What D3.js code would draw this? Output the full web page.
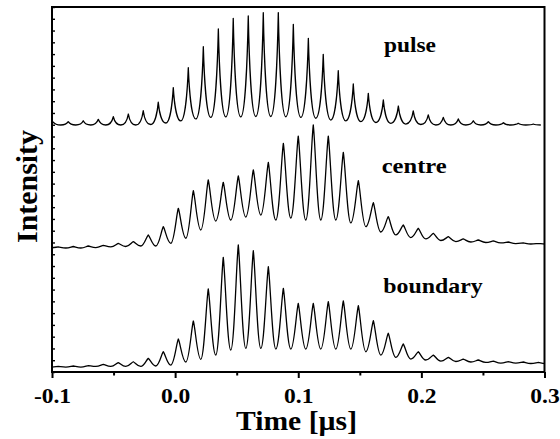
<!DOCTYPE html>
<html>
<head>
<meta charset="utf-8">
<script src="https://cdn.jsdelivr.net/npm/d3@7"></script>
<style>
  body { margin: 0; background: #fff; }
  svg { display: block; }
  text { font-family: "Liberation Serif", "Times New Roman", serif; font-weight: bold; fill: #000; }
</style>
</head>
<body>
<svg id="chart" width="560" height="439"></svg>
<script>
// ---- axes ----
const xTicks = [-0.1, 0.0, 0.1, 0.2, 0.3];
const xMinorTicks = [-0.05, 0.05, 0.15, 0.25];
const yTicks = d3.range(0, 32);           // unlabelled intensity ticks

// ---- traces (stacked on the intensity axis) ----
const traceNames = ["pulse", "centre", "boundary"];
const traceOffsets = [20, 10, 0];

// pulse: peak times (µs), peak heights, troughs (one before the first peak, then one after each peak)
const pulseTimes = [-0.0990, -0.0868, -0.0746, -0.0624, -0.0502, -0.0380, -0.0259, -0.0137, -0.0015,
  0.0107, 0.0229, 0.0351, 0.0472, 0.0594, 0.0716, 0.0838, 0.0960, 0.1082, 0.1203, 0.1325, 0.1447,
  0.1569, 0.1691, 0.1813, 0.1934, 0.2056, 0.2178, 0.2300, 0.2422, 0.2544, 0.2666, 0.2787, 0.2909];
const pulsePeaks = [1.22, 1.26, 1.34, 1.46, 1.68, 1.91, 2.19, 2.91, 4.15, 5.84, 7.63, 9.13, 10.04,
  10.24, 10.52, 10.53, 9.53, 8.34, 6.98, 5.59, 4.46, 3.67, 3.10, 2.59, 2.17, 1.83, 1.63, 1.49, 1.34,
  1.26, 1.17, 1.12, 1.06];
const pulseTroughs = [0.98, 0.98, 0.98, 0.98, 0.98, 0.98, 0.98, 1.02, 1.15, 1.32, 1.49, 1.62, 1.66,
  1.66, 1.70, 1.70, 1.68, 1.62, 1.55, 1.40, 1.32, 1.26, 1.19, 1.12, 1.06, 1.02, 0.98, 0.98, 0.98,
  0.98, 0.98, 0.98, 0.98, 0.98];

// centre and boundary share the same peak times
const probeTimes = [-0.0949, -0.0827, -0.0705, -0.0583, -0.0462, -0.0340, -0.0218, -0.0096, 0.0026,
  0.0148, 0.0269, 0.0391, 0.0513, 0.0635, 0.0757, 0.0879, 0.1000, 0.1122, 0.1244, 0.1366, 0.1488,
  0.1610, 0.1731, 0.1853, 0.1975, 0.2097, 0.2219, 0.2341, 0.2462, 0.2584, 0.2706, 0.2828, 0.2950];

const centrePeaks = [0.62, 0.66, 0.70, 0.76, 0.93, 1.07, 1.64, 2.34, 3.90, 5.40, 6.31, 6.11, 6.65,
  7.16, 7.81, 9.42, 10.04, 10.98, 10.04, 8.66, 6.25, 4.38, 3.19, 2.49, 2.20, 1.78, 1.49, 1.30, 1.21,
  1.13, 1.04, 0.96, 0.91];
const centreTroughs = [0.55, 0.53, 0.53, 0.57, 0.62, 0.66, 0.70, 0.70, 0.93, 1.36, 2.06, 2.82, 2.91,
  3.16, 3.33, 2.91, 3.08, 2.91, 2.91, 2.91, 2.66, 2.34, 1.89, 1.64, 1.42, 1.30, 1.17, 1.08, 1.04,
  1.00, 0.96, 0.91, 0.87, 0.87];

const boundaryPeaks = [0.47, 0.51, 0.55, 0.64, 0.79, 0.87, 1.16, 1.72, 2.80, 4.33, 7.05, 9.74, 10.79,
  10.30, 8.94, 7.11, 5.83, 5.83, 5.97, 6.03, 5.63, 4.36, 3.29, 2.38, 1.72, 1.44, 1.25, 1.10, 1.02,
  0.93, 0.89, 0.85, 0.81];
const boundaryTroughs = [0.42, 0.42, 0.42, 0.47, 0.47, 0.47, 0.47, 0.51, 0.59, 0.85, 1.08, 1.44, 1.87,
  2.01, 2.01, 1.95, 1.95, 1.95, 1.95, 1.95, 1.95, 1.72, 1.44, 1.25, 1.10, 1.02, 0.93, 0.89, 0.85,
  0.81, 0.76, 0.76, 0.72, 0.72];

const traces = [
  { name: traceNames[0], offset: traceOffsets[0], times: pulseTimes, peaks: pulsePeaks, troughs: pulseTroughs,
    shape: { flat: 0.55, tipX: 0.12, tipY: 0.45 }, label: { x: 384, y: 51.7, w: 52 } },
  { name: traceNames[1], offset: traceOffsets[1], times: probeTimes, peaks: centrePeaks, troughs: centreTroughs,
    shape: { flat: 0.45, tipX: 0.25, tipY: 0.15 }, label: { x: 381.7, y: 173.3, w: 65 } },
  { name: traceNames[2], offset: traceOffsets[2], times: probeTimes, peaks: boundaryPeaks, troughs: boundaryTroughs,
    shape: { flat: 0.45, tipX: 0.25, tipY: 0.15 }, label: { x: 383.3, y: 292.7, w: 99.4 } }
];

// ---- layout ----
const svg = d3.select("#chart");
const margin = { left: 52, right: 15.5, top: 7, bottom: 67 };
const W = 560, H = 439;
const x = d3.scaleLinear().domain([-0.1, 0.3]).range([margin.left, W - margin.right]);
const y = d3.scaleLinear().domain([0, 31]).range([H - margin.bottom, margin.top]);

// Curve that draws each rise/fall between trough and peak as a cubic
// with a flat trough and a steep, pointed tip.
function pulseCurve(shape) {
  return function (context) {
    let prev = null;
    return {
      areaStart() {}, areaEnd() {},
      lineStart() { prev = null; },
      lineEnd() {},
      point(px, py) {
        px = +px; py = +py;
        if (!prev) { context.moveTo(px, py); }
        else {
          const [x0, y0] = prev, dx = px - x0;
          if (py < y0) {            // rising to a peak
            context.bezierCurveTo(x0 + shape.flat * dx, y0,
              px - shape.tipX * dx, py + shape.tipY * (y0 - py), px, py);
          } else {                  // falling into a trough
            context.bezierCurveTo(x0 + shape.tipX * dx, y0 + shape.tipY * (py - y0),
              px - shape.flat * dx, py, px, py);
          }
        }
        prev = [px, py];
      }
    };
  };
}

// Sequence trough, peak, trough, peak ... for one trace
function tracePoints(tr) {
  const pts = [];
  const n = tr.times.length;
  const half = (tr.times[n - 1] - tr.times[0]) / (n - 1) / 2;
  pts.push([tr.times[0] - half, tr.troughs[0] + tr.offset]);
  for (let i = 0; i < n; i++) {
    pts.push([tr.times[i], tr.peaks[i] + tr.offset]);
    const tNext = i < n - 1 ? (tr.times[i] + tr.times[i + 1]) / 2 : tr.times[i] + half;
    pts.push([tNext, tr.troughs[i + 1] + tr.offset]);
  }
  return pts;
}

svg.append("defs").append("clipPath").attr("id", "plotArea")
  .append("rect")
  .attr("x", x(-0.1)).attr("y", y(31))
  .attr("width", x(0.3) - x(-0.1)).attr("height", y(0) - y(31));

const plot = svg.append("g").attr("clip-path", "url(#plotArea)");
traces.forEach(tr => {
  const line = d3.line().x(d => x(d[0])).y(d => y(d[1])).curve(pulseCurve(tr.shape));
  plot.append("path")
    .datum(tracePoints(tr))
    .attr("d", line)
    .attr("fill", "none")
    .attr("stroke", "#000")
    .attr("stroke-width", 1.3)
    .attr("stroke-linejoin", "round");
});

// trace labels
traces.forEach(tr => {
  svg.append("text")
    .attr("x", tr.label.x).attr("y", tr.label.y)
    .attr("font-size", 22)
    .attr("textLength", tr.label.w)
    .attr("lengthAdjust", "spacingAndGlyphs")
    .text(tr.name);
});

// y ticks, pointing inward
const yAxis = svg.append("g")
  .attr("transform", `translate(${margin.left},0)`)
  .call(d3.axisLeft(y).tickValues(yTicks).tickSize(-3).tickFormat(""));
yAxis.select(".domain").remove();
yAxis.selectAll(".tick line").attr("stroke", "#000").attr("stroke-width", 1.4);

// x axis: major ticks with labels, minor ticks without
const xAxis = svg.append("g")
  .attr("transform", `translate(0,${y(0)})`)
  .call(d3.axisBottom(x).tickValues(xTicks).tickSize(6).tickFormat(d => d.toFixed(1)));
xAxis.select(".domain").remove();
xAxis.selectAll(".tick line").attr("stroke", "#000").attr("stroke-width", 2);
xAxis.selectAll(".tick text")
  .attr("y", 31).attr("dy", 0)
  .attr("font-size", 22)
  .attr("transform", "scale(1.07,1)")
  .style("font-family", '"Liberation Serif", "Times New Roman", serif')
  .style("font-weight", "bold");

const xMinor = svg.append("g")
  .attr("transform", `translate(0,${y(0)})`)
  .call(d3.axisBottom(x).tickValues(xMinorTicks).tickSize(3.5).tickFormat(""));
xMinor.select(".domain").remove();
xMinor.selectAll(".tick line").attr("stroke", "#000").attr("stroke-width", 2);

// frame
svg.append("rect")
  .attr("x", x(-0.1)).attr("y", y(31))
  .attr("width", x(0.3) - x(-0.1)).attr("height", y(0) - y(31))
  .attr("fill", "none").attr("stroke", "#000").attr("stroke-width", 2);

// axis titles
svg.append("text")
  .attr("x", 296.5).attr("y", 430)
  .attr("text-anchor", "middle")
  .attr("font-size", 27)
  .attr("textLength", 121)
  .attr("lengthAdjust", "spacingAndGlyphs")
  .text("Time [µs]");

svg.append("text")
  .attr("transform", "translate(37,186.5) rotate(-90)")
  .attr("text-anchor", "middle")
  .attr("font-size", 29)
  .attr("textLength", 113)
  .attr("lengthAdjust", "spacingAndGlyphs")
  .text("Intensity");
</script>
</body>
</html>
